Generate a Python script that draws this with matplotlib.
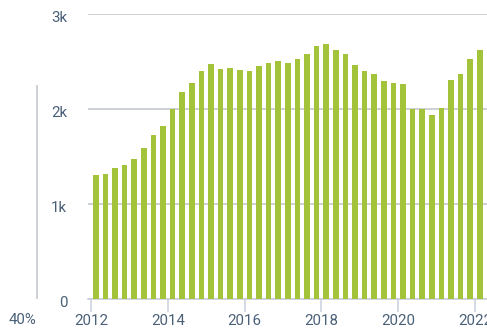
import matplotlib
matplotlib.use("Agg")
import matplotlib.pyplot as plt
from matplotlib.lines import Line2D
from matplotlib.transforms import ScaledTranslation

plt.rcParams["font.family"] = ["Roboto", "DejaVu Sans"]

# Quarterly series, 2012 Q1 .. 2022 Q1
years = [y for y in range(2012, 2023) for _ in range(4)][:41]
quarters = [q for _ in range(2012, 2023) for q in (1, 2, 3, 4)][:41]
values = [1300, 1315, 1375, 1405, 1465, 1585, 1720, 1820,
          2000, 2170, 2270, 2390, 2465, 2420, 2430, 2405,
          2390, 2450, 2475, 2495, 2480, 2520, 2570, 2655,
          2675, 2615, 2570, 2455, 2390, 2360, 2285, 2270,
          2255, 1990, 1990, 1930, 2005, 2300, 2360, 2525,
          2615]

y_ticks = [0, 1000, 2000, 3000]
y_tick_labels = ["0", "1k", "2k", "3k"]
x_ticks = [2012, 2014, 2016, 2018, 2020, 2022]
x_tick_labels = ["2012", "2014", "2016", "2018", "2020", "2022"]
side_label = "40%"

BAR = "#a3c43a"
GRID = "#cdd1d6"
TEXT = "#4a6079"
TICK = "#c9d0de"

fig = plt.figure(figsize=(4.87, 3.32), dpi=100)
ax = fig.add_axes([88 / 487, 1 - 298.5 / 332, 1 - 88 / 487, (298.5 - 13.5) / 332])

xpos = [y + (q - 1) * 0.25 + 0.125 for y, q in zip(years, quarters)]
ax.bar(xpos, values, width=0.15, color=BAR, zorder=3)

ax.set_xlim(2012 - 3 / 38.4, 2012 + (487 - 91) / 38.4)
ax.set_ylim(0, 3000)

ax.set_yticks(y_ticks)
ax.set_yticklabels(y_tick_labels)
ax.set_xticks(x_ticks)
ax.set_xticklabels(x_tick_labels)

ax.yaxis.grid(True, color=GRID, linewidth=1.4, zorder=0)
ax.set_axisbelow(True)

for s in ("top", "right", "left"):
    ax.spines[s].set_visible(False)
ax.spines["bottom"].set_color(TICK)
ax.spines["bottom"].set_linewidth(1.2)

ax.tick_params(axis="y", length=0, pad=15, labelsize=10.8, labelcolor=TEXT)
ax.tick_params(axis="x", length=9, width=1.1, color=TICK, pad=2,
               labelsize=10.8, labelcolor=TEXT)

shift = ScaledTranslation(0, -3 / 100, fig.dpi_scale_trans)
for lab in ax.get_yticklabels():
    lab.set_transform(lab.get_transform() + shift)

# Secondary scale stub on the far left
fig.add_artist(Line2D([37 / 487, 37 / 487], [1 - 86 / 332, 1 - 297.5 / 332],
                      color=GRID, linewidth=1.4, transform=fig.transFigure))
fig.text(22.5 / 487, 1 - 320 / 332, side_label, ha="center", va="center",
         fontsize=10.8, color=TEXT)

fig.savefig("out.png", dpi=100)
